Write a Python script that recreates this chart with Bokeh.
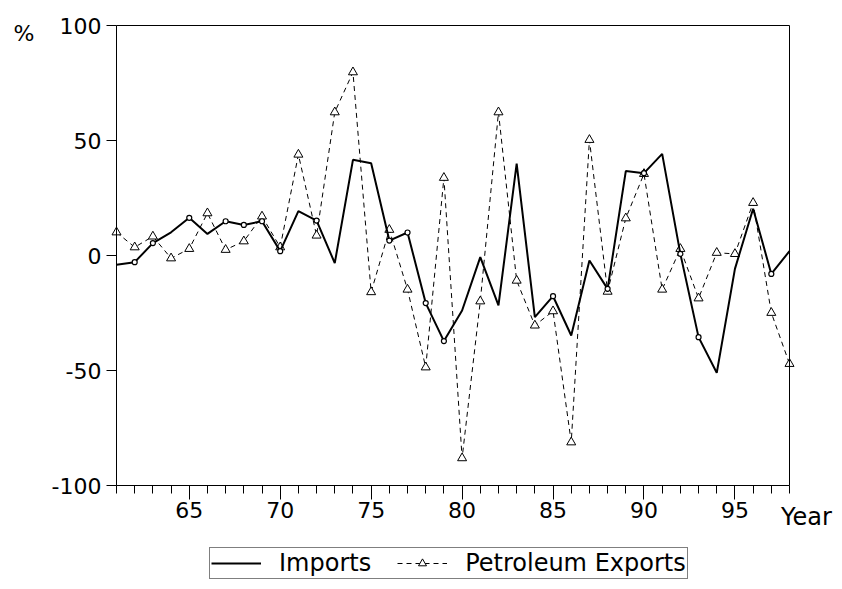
from bokeh.plotting import figure
from bokeh.models import (Range1d, FixedTicker, Label, Legend, LegendItem,
                          ColumnDataSource, LinearAxis, PrintfTickFormatter)
from bokeh.embed import file_html
from bokeh.resources import INLINE

years = list(range(61, 99))
imports = [-4.0, -2.9, 5.4, 10.1, 16.4, 9.4, 14.9, 13.3, 14.9, 1.9,
           19.3, 15.2, -3.3, 41.6, 40.1, 6.5, 10.0, -20.7, -37.2, -23.9,
           -0.7, -21.7, 39.9, -26.8, -17.7, -34.8, -2.2, -14.5, 36.7, 35.8,
           44.2, 0.7, -35.5, -51.0, -5.8, 20.3, -8.0, 1.9]
exports = [10.1, 3.6, 8.3, -1.2, 2.9, 18.4, 2.5, 6.2, 17.0, 3.6,
           43.9, 8.7, 62.3, 79.7, -15.9, 11.2, -14.8, -48.6, 33.8, -88.1,
           -19.9, 62.3, -10.9, -30.4, -24.2, -81.2, 50.3, -15.7, 16.2, 35.5,
           -14.8, 2.9, -18.6, 1.2, 0.7, 22.9, -24.9, -47.1]
circle_years = [62, 63, 65, 67, 68, 69, 70, 72, 76, 77, 78, 79, 85, 88, 90,
                92, 93, 97]
x_major_ticks = [65, 70, 75, 80, 85, 90, 95]
y_ticks = [-100, -50, 0, 50, 100]
series_names = ["Imports", "Petroleum Exports"]

FONT = "DejaVu Sans"
W, H = 842, 589
# chart box in pixels: left 116, right 789, top 25, bottom 485
X0, X1 = years[0], years[-1]
Y0, Y1 = -100, 100
pxx = (789 - 116) / (X1 - X0)
pxy = (485 - 25) / (Y1 - Y0)
x_range = Range1d(X0 - 116 / pxx, X1 + (W - 789) / pxx)
y_range = Range1d(Y0 - (H - 485) / pxy, Y1 + 25 / pxy)

p = figure(width=W, height=H, output_backend="svg", toolbar_location=None,
           x_range=x_range, y_range=y_range,
           x_axis_location=None, y_axis_location=None,
           min_border=0)
p.grid.visible = False
p.outline_line_color = None
p.background_fill_color = "white"
p.border_fill_color = "white"

src = ColumnDataSource(dict(x=years, imp=imports, exp=exports))
circ_imp = [imports[years.index(y)] for y in circle_years]

r_exp_line = p.line("x", "exp", source=src, line_color="black", line_width=1,
                    line_dash="5 4")
r_exp_pts = p.scatter("x", "exp", source=src, marker="triangle", size=9,
                      fill_color="white", line_color="black", line_width=1)
r_imp = p.line("x", "imp", source=src, line_color="black", line_width=2)
p.scatter(circle_years, circ_imp, marker="circle", size=5,
          fill_color="white", line_color="black", line_width=1.2)


def style(ax):
    ax.axis_line_color = "black"
    ax.axis_line_width = 1
    ax.major_tick_line_color = "black"
    ax.minor_tick_line_color = "black"
    ax.major_label_text_font = FONT
    ax.major_label_text_font_size = "22px"
    ax.major_label_text_color = "black"
    ax.formatter = PrintfTickFormatter(format="%d")


xa = LinearAxis(fixed_location=Y0, bounds=(X0, X1),
                ticker=FixedTicker(ticks=x_major_ticks, minor_ticks=years))
style(xa)
xa.major_tick_out = 14
xa.major_tick_in = 0
xa.minor_tick_out = 8
xa.minor_tick_in = 0
xa.major_label_standoff = 2
p.add_layout(xa, "below")

ya = LinearAxis(fixed_location=X0, bounds=(Y0, Y1),
                ticker=FixedTicker(ticks=y_ticks, minor_ticks=[]))
style(ya)
ya.major_tick_out = 10
ya.major_tick_in = 0
ya.minor_tick_out = 0
ya.major_label_standoff = 5
p.add_layout(ya, "left")

# top and right edges of the chart box
ta = LinearAxis(fixed_location=Y1, bounds=(X0, X1),
                ticker=FixedTicker(ticks=[], minor_ticks=[]))
style(ta)
ta.major_tick_line_color = None
ta.minor_tick_line_color = None
p.add_layout(ta, "above")
ra = LinearAxis(fixed_location=X1, bounds=(Y0, Y1),
                ticker=FixedTicker(ticks=[], minor_ticks=[]))
style(ra)
ra.major_tick_line_color = None
ra.minor_tick_line_color = None
p.add_layout(ra, "right")

p.add_layout(Label(x=55.91, y=96.7, text="%", text_font=FONT,
                   text_font_size="22px", text_align="center",
                   text_baseline="middle", text_color="black"))
p.add_layout(Label(x=98.93, y=-113.9, text="Year", text_font=FONT,
                   text_font_size="24px", text_align="center",
                   text_baseline="middle", text_color="black"))

legend = Legend(items=[LegendItem(label=series_names[0], renderers=[r_imp]),
                       LegendItem(label=series_names[1],
                                  renderers=[r_exp_line, r_exp_pts])],
                orientation="horizontal", location=(209, 10))
legend.label_text_font = FONT
legend.label_text_font_size = "24px"
legend.label_text_color = "black"
legend.glyph_width = 50
legend.glyph_height = 20
legend.label_height = 20
legend.label_standoff = 18
legend.spacing = 26
legend.padding = 1
legend.margin = 0
legend.border_line_color = "black"
legend.border_line_width = 1
legend.background_fill_alpha = 1
p.add_layout(legend, "center")

open("out.html", "w").write(file_html(p, INLINE))
